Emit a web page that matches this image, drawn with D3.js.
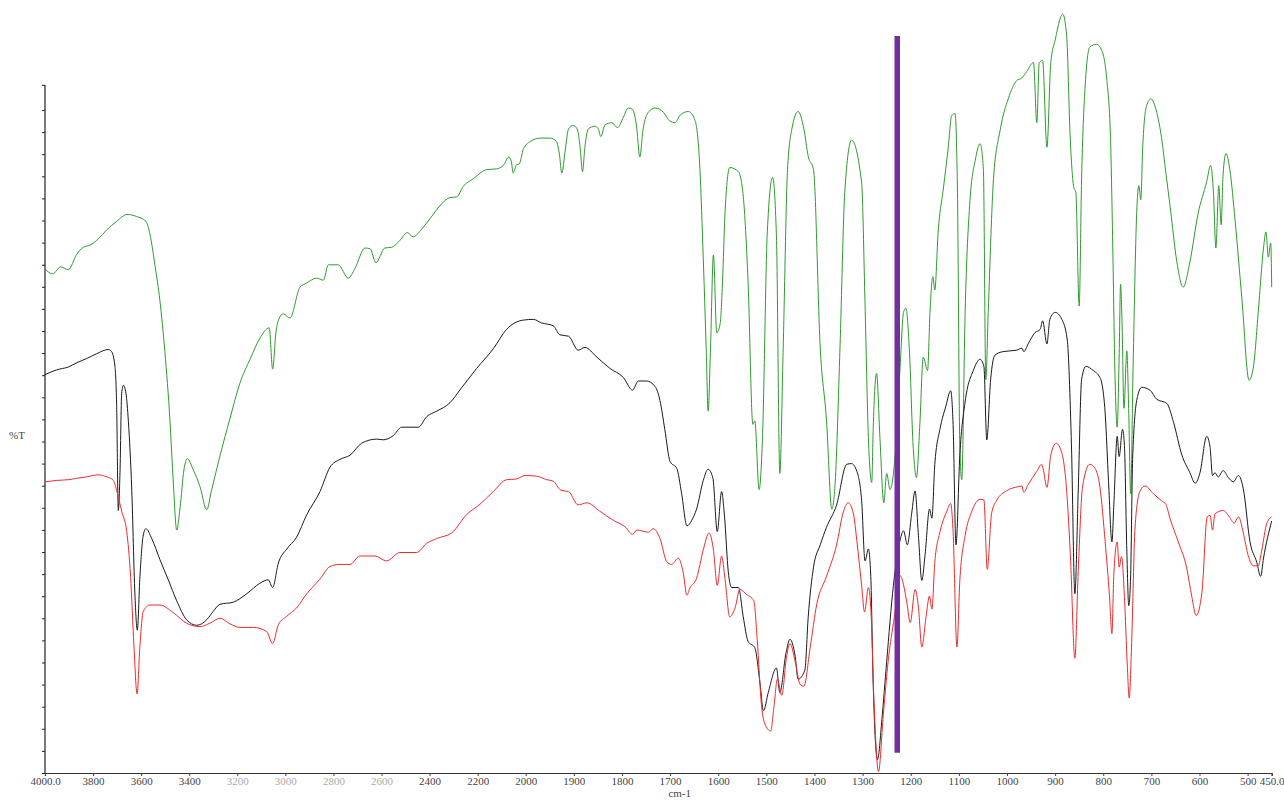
<!DOCTYPE html>
<html>
<head>
<meta charset="utf-8">
<script src="https://cdn.jsdelivr.net/npm/d3@7"></script>
<style>
  html, body { margin: 0; padding: 0; background: #ffffff; }
  svg { display: block; }
</style>
</head>
<body>
<svg id="chart" width="1284" height="803"></svg>
<script>
// ---------------- DATA (wavenumber cm-1, %T in arbitrary units) ----------------
const xTickValues = [4000, 3800, 3600, 3400, 3200, 3000, 2800, 2600, 2400, 2200, 2000,
  1900, 1800, 1700, 1600, 1500, 1400, 1300, 1200, 1100, 1000, 900, 800, 700, 600, 500, 450];
const xTickLabels = ["4000.0", "3800", "3600", "3400", "3200", "3000", "2800", "2600", "2400", "2200", "2000",
  "1900", "1800", "1700", "1600", "1500", "1400", "1300", "1200", "1100", "1000", "900", "800", "700", "600", "500", "450.0"];
const fadedTickLabels = ["3200", "3000", "2800", "2600"];
const xAxisTitle = "cm-1";
const yAxisTitle = "%T";

const greenSpectrum = [
[4000,72.0],[3968,71.3],[3935,72.3],[3903,71.9],[3868,74.1],[3841,75.1],[3813,75.4],[3778,76.3],[3743,77.6],[3702,78.8],
[3658,79.8],[3619,79.5],[3580,78.8],[3563,76.9],[3542,72.4],[3522,67.5],[3501,60.1],[3480,50.3],[3466,41.4],[3452,34.7],
[3438,37.9],[3422,43.3],[3408,44.9],[3383,43.3],[3355,40.9],[3327,37.6],[3307,40.4],[3272,45.3],[3230,50.7],[3189,55.7],
[3147,59.1],[3106,62.1],[3067,63.6],[3053,57.7],[3039,63.0],[3025,65.0],[3009,65.6],[2981,65.0],[2939,69.4],[2911,70.0],
[2870,70.7],[2842,70.4],[2821,72.6],[2780,72.6],[2738,70.7],[2710,72.1],[2669,75.0],[2648,74.9],[2623,72.9],[2586,75.0],
[2558,75.1],[2523,76.1],[2493,77.2],[2468,76.6],[2433,77.7],[2398,79.2],[2350,81.3],[2315,82.2],[2287,82.3],[2260,83.8],
[2218,84.9],[2162,86.2],[2121,86.3],[2091,86.9],[2070,88.0],[2060,87.4],[2052,85.7],[2038,86.9],[2027,87.0],[2010,89.1],
[1991,90.2],[1970,90.7],[1950,90.7],[1936,90.2],[1930,88.4],[1925,85.7],[1918,88.9],[1911,92.0],[1901,92.5],[1893,92.0],
[1887,89.4],[1882,85.9],[1877,89.4],[1870,92.0],[1856,92.4],[1849,92.0],[1844,90.9],[1835,92.6],[1821,92.9],[1809,92.2],
[1797,93.7],[1787,95.0],[1778,94.8],[1769,92.0],[1763,88.0],[1756,92.0],[1745,94.4],[1731,95.0],[1714,94.4],[1700,93.1],
[1690,92.9],[1679,94.0],[1662,94.5],[1648,93.2],[1638,86.2],[1631,73.4],[1625,60.7],[1621,51.7],[1616,60.7],[1610,74.0],
[1603,62.9],[1596,64.2],[1591,70.2],[1586,79.8],[1576,86.5],[1558,85.9],[1548,82.4],[1538,70.2],[1528,49.8],[1524,50.3],
[1515,40.5],[1508,47.9],[1498,77.3],[1487,85.1],[1479,76.6],[1472,42.8],[1465,60.7],[1456,86.2],[1447,92.0],[1434,94.5],
[1422,92.0],[1413,88.1],[1402,86.2],[1388,60.7],[1375,50.4],[1364,37.7],[1357,41.5],[1347,60.7],[1337,83.0],[1323,90.4],
[1302,84.3],[1295,67.1],[1288,47.9],[1281,41.5],[1278,49.2],[1271,57.1],[1264,47.9],[1256,38.6],[1250,42.8],[1243,40.5],
[1234,44.1],[1222,58.1],[1215,65.8],[1210,66.4],[1203,60.7],[1195,46.7],[1188,42.2],[1181,49.9],[1174,59.4],[1165,57.5],
[1160,65.8],[1154,70.9],[1150,69.0],[1143,77.3],[1132,83.6],[1122,89.4],[1115,93.9],[1108,94.2],[1103,83.6],[1098,46.7],
[1094,41.9],[1087,65.8],[1077,81.7],[1066,87.5],[1056,89.9],[1049,86.2],[1044,56.2],[1039,65.8],[1028,84.9],[1014,91.9],
[997,96.4],[980,98.9],[969,99.3],[959,100.2],[945,101.5],[938,92.9],[933,101.5],[926,101.8],[917,89.4],[909,101.5],
[900,104.7],[884,108.4],[876,105.3],[869,91.3],[861,83.6],[857,83.0],[850,66.7],[845,84.9],[838,97.7],[828,103.7],
[814,104.1],[803,103.2],[793,99.3],[785,90.8],[780,74.4],[776,58.0],[771,49.4],[767,59.3],[764,69.8],[761,64.5],
[757,52.1],[751,60.3],[747,51.4],[743,39.9],[738,58.0],[730,80.9],[726,83.9],[722,81.9],[718,89.4],[710,95.3],
[701,96.3],[689,94.4],[679,90.8],[670,85.8],[661,80.9],[647,73.0],[634,69.4],[620,73.0],[603,79.9],[585,84.5],
[577,86.8],[571,82.9],[566,75.0],[560,83.9],[555,78.3],[551,85.5],[545,88.5],[537,86.2],[526,78.9],[512,67.8],
[497,56.1],[488,58.0],[478,65.8],[467,75.0],[462,77.3],[457,73.7],[452,75.7],[450,69.4]
];

const blackSpectrum = [
[4000,56.9],[3951,57.6],[3903,58.0],[3868,58.6],[3827,59.2],[3785,59.9],[3737,60.5],[3723,60.2],[3709,58.1],[3702,52.7],
[3695,37.5],[3688,42.9],[3681,54.2],[3674,55.4],[3663,54.2],[3653,50.2],[3639,40.4],[3626,25.6],[3616,20.4],[3605,28.1],
[3591,34.0],[3580,34.9],[3556,33.5],[3522,30.5],[3487,27.6],[3452,24.6],[3411,21.9],[3369,21.1],[3327,21.9],[3300,23.1],
[3272,24.1],[3217,24.4],[3161,25.6],[3106,27.1],[3071,27.6],[3053,26.5],[3029,30.0],[2994,32.0],[2953,33.7],[2911,36.9],
[2856,40.2],[2814,43.7],[2773,44.8],[2731,45.4],[2683,47.1],[2620,47.7],[2593,47.6],[2551,48.2],[2516,49.4],[2447,49.4],
[2412,50.9],[2370,51.7],[2315,52.9],[2274,54.7],[2204,57.8],[2135,60.6],[2079,63.4],[2010,64.7],[1984,64.8],[1967,64.3],
[1943,63.9],[1929,62.6],[1911,62.4],[1891,60.4],[1877,60.8],[1852,59.4],[1825,57.8],[1797,56.5],[1778,54.7],[1766,56.0],
[1749,56.0],[1731,55.2],[1721,53.2],[1711,49.1],[1700,44.5],[1686,43.5],[1676,39.9],[1665,35.3],[1655,36.1],[1645,37.7],
[1631,41.8],[1621,43.4],[1611,42.1],[1602,34.5],[1593,40.2],[1587,36.7],[1579,28.7],[1572,26.5],[1558,26.5],[1548,22.3],
[1538,18.8],[1524,17.9],[1513,12.7],[1506,8.9],[1496,11.5],[1479,15.0],[1472,11.5],[1459,17.2],[1451,19.1],[1440,16.6],
[1434,13.4],[1420,14.7],[1413,22.3],[1402,29.4],[1388,32.6],[1375,35.1],[1354,38.3],[1333,44.1],[1323,44.2],[1312,43.1],
[1302,38.9],[1295,30.3],[1288,32.0],[1283,28.1],[1278,12.7],[1269,1.9],[1260,7.6],[1250,15.9],[1236,26.8],[1222,33.3],
[1215,34.6],[1207,32.6],[1198,37.1],[1191,40.3],[1184,33.9],[1177,27.5],[1170,31.3],[1161,37.7],[1156,36.4],[1150,44.1],
[1139,49.2],[1127,52.4],[1117,54.6],[1112,49.8],[1106,32.6],[1098,45.4],[1087,53.0],[1070,57.5],[1056,59.1],[1048,58.1],
[1042,47.6],[1034,56.2],[1025,59.7],[1008,60.2],[980,60.4],[969,60.7],[965,60.2],[956,61.3],[942,62.9],[931,63.4],
[926,64.6],[917,61.3],[911,64.8],[900,65.8],[886,64.8],[875,62.0],[866,46.7],[859,25.6],[852,40.3],[845,56.2],
[836,58.1],[821,57.5],[807,56.5],[803,55.7],[796,51.4],[789,41.6],[782,33.0],[778,38.3],[771,48.1],[767,45.2],
[760,49.1],[756,46.8],[751,31.7],[747,23.9],[743,28.4],[739,44.8],[730,53.4],[720,55.1],[703,54.7],[689,53.4],
[668,52.8],[654,50.1],[637,45.5],[620,42.9],[609,41.4],[599,42.9],[585,48.1],[578,46.5],[573,42.5],[568,42.9],
[561,42.3],[551,43.2],[540,42.2],[530,41.6],[519,42.5],[509,40.6],[495,33.0],[481,30.1],[473,28.1],[467,30.7],
[450,36.0]
];

const redSpectrum = [
[4000,41.6],[3951,41.8],[3903,41.9],[3868,42.1],[3827,42.3],[3778,42.6],[3743,42.3],[3718,41.9],[3702,40.4],[3681,37.4],
[3660,34.5],[3644,28.1],[3630,18.2],[3617,11.3],[3605,18.2],[3591,23.1],[3563,24.0],[3522,24.0],[3466,22.9],[3411,21.4],
[3355,20.9],[3314,21.4],[3272,22.1],[3230,21.3],[3189,20.8],[3133,20.8],[3078,20.2],[3053,18.5],[3029,21.2],[2994,22.4],
[2953,23.6],[2911,25.6],[2856,27.7],[2814,29.5],[2773,29.8],[2731,29.8],[2690,31.0],[2627,31.0],[2579,30.3],[2523,31.5],
[2454,31.5],[2412,32.8],[2370,33.5],[2308,34.3],[2246,36.9],[2190,38.4],[2135,40.2],[2079,41.9],[2038,42.0],[2003,42.5],
[1977,42.4],[1956,41.9],[1943,41.7],[1927,40.4],[1911,40.2],[1891,38.3],[1873,38.6],[1846,37.4],[1818,36.1],[1794,35.2],
[1778,34.1],[1769,34.7],[1745,34.4],[1735,34.9],[1721,33.5],[1707,30.2],[1697,29.8],[1683,30.7],[1673,28.7],[1665,25.4],
[1659,26.4],[1645,27.8],[1631,31.9],[1619,34.3],[1610,31.9],[1602,26.8],[1593,31.0],[1586,27.8],[1576,22.3],[1565,23.6],
[1555,26.2],[1541,25.5],[1526,24.6],[1519,19.1],[1510,9.6],[1503,7.0],[1491,6.0],[1484,9.6],[1477,13.4],[1468,11.1],
[1458,16.6],[1451,18.5],[1440,15.9],[1430,12.7],[1422,12.4],[1409,17.9],[1395,24.2],[1375,28.1],[1354,32.6],[1340,37.3],
[1330,38.6],[1319,37.0],[1312,33.2],[1302,26.8],[1296,23.0],[1288,26.5],[1283,23.6],[1276,9.6],[1267,0.2],[1257,8.3],
[1247,15.9],[1234,22.3],[1222,28.2],[1215,26.9],[1208,24.3],[1201,21.5],[1191,26.2],[1184,23.7],[1177,18.0],[1168,22.4],
[1161,25.3],[1156,23.4],[1150,30.1],[1139,34.5],[1125,37.4],[1117,38.5],[1112,34.5],[1104,18.0],[1098,27.5],[1087,33.9],
[1073,37.4],[1056,39.1],[1048,39.0],[1041,29.1],[1032,37.1],[1021,39.0],[1001,40.3],[977,40.9],[969,41.0],[965,40.1],
[956,41.2],[938,43.1],[928,44.1],[925,43.5],[917,40.8],[909,45.4],[898,47.1],[886,45.7],[876,40.3],[868,30.7],
[859,16.4],[852,28.8],[843,40.9],[828,44.1],[817,43.5],[807,40.9],[796,33.0],[787,25.2],[782,19.9],[778,28.4],
[771,33.0],[767,29.4],[762,30.9],[756,25.2],[750,15.3],[746,10.7],[741,18.6],[734,35.0],[724,40.2],[713,41.0],
[696,39.9],[679,38.9],[670,38.4],[661,36.3],[644,33.0],[627,29.4],[616,25.2],[607,22.5],[595,25.8],[584,36.6],
[578,36.8],[573,34.7],[568,37.0],[551,37.5],[538,36.6],[528,35.7],[519,36.6],[509,34.3],[499,31.1],[488,29.6],
[478,29.6],[471,31.7],[460,35.7],[450,36.6]
];

// Vertical marker (wavenumber, from/to value)
const markerWavenumber = [1228];
const markerRange = [2.9, 105.3];

// ---------------- DRAWING ----------------
const svg = d3.select("#chart");

// Split-scale wavenumber axis (4000-2000 compressed, 2000-450 expanded)
const x = d3.scaleLinear().domain([4000, 2000, 450]).range([45, 525.7, 1271.7]);
const y = d3.scaleLinear().domain([0, 100]).range([773, 73]);
const yAxisTop = 98.3;
const yTickStep = 22.1 / 7;

// Y axis
const yTicks = d3.range(0, 31).map(i => i * yTickStep).concat([yAxisTop]);
const yAxis = d3.axisLeft(y).tickValues(yTicks).tickSize(3).tickFormat("");
const gy = svg.append("g").attr("transform", "translate(45,0)").call(yAxis);
gy.select(".domain").remove();
gy.selectAll(".tick line").attr("stroke", "#222");
gy.append("line").attr("x1", 0).attr("x2", 0).attr("y1", y(0)).attr("y2", y(yAxisTop))
  .attr("stroke", "#222").attr("stroke-width", 1.2);

// X axis
const xAxis = d3.axisBottom(x).tickValues(xTickValues).tickSize(3)
  .tickFormat((d, i) => xTickLabels[i]);
const gx = svg.append("g").attr("transform", `translate(0,${y(0)})`).call(xAxis);
gx.select(".domain").attr("stroke", "#333").attr("stroke-width", 1.2);
gx.selectAll(".tick line").attr("stroke", "#444");
gx.selectAll(".tick text")
  .attr("font-family", "'Liberation Serif', 'DejaVu Serif', serif")
  .attr("font-size", 11)
  .attr("dy", "0.55em")
  .attr("fill", (d, i) => fadedTickLabels.includes(xTickLabels[i]) ? "#aaa" : "#444");

// Axis titles
svg.append("text").attr("x", x(1680)).attr("y", 797)
  .attr("text-anchor", "middle")
  .attr("font-family", "'Liberation Serif', 'DejaVu Serif', serif")
  .attr("font-size", 11).attr("fill", "#444").text(xAxisTitle);
svg.append("text").attr("x", 17).attr("y", 439)
  .attr("text-anchor", "middle")
  .attr("font-family", "'Liberation Serif', 'DejaVu Serif', serif")
  .attr("font-size", 11).attr("fill", "#444").text(yAxisTitle);

// Spectra
const line = d3.line()
  .x(d => x(d[0]))
  .y(d => y(d[1]))
  .curve(d3.curveMonotoneX);

const series = [
  { data: greenSpectrum, color: "#2f9a2f" },
  { data: blackSpectrum, color: "#1a1a1a" },
  { data: redSpectrum, color: "#ee2b2b" }
];
svg.append("g").selectAll("path").data(series).join("path")
  .attr("d", d => line(d.data))
  .attr("fill", "none")
  .attr("stroke", d => d.color)
  .attr("stroke-width", 1)
  .attr("stroke-linejoin", "round");

// Marker bar
svg.append("g").selectAll("line").data(markerWavenumber).join("line")
  .attr("x1", d => x(d)).attr("x2", d => x(d))
  .attr("y1", y(markerRange[0])).attr("y2", y(markerRange[1]))
  .attr("stroke", "#7030a0").attr("stroke-width", 5.5);
</script>
</body>
</html>
